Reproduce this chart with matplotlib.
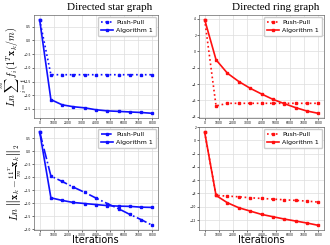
import numpy as np
import matplotlib
matplotlib.use("Agg")
import matplotlib.pyplot as plt

plt.rcParams['mathtext.fontset'] = 'cm'

iters = [0, 800, 1600, 2400, 3200, 4000, 4800, 5600, 6400, 7200, 8000]
xticks = [0, 1000, 2000, 3000, 4000, 5000, 6000, 7000, 8000]

# star graph, objective gap
star_f_pp = [0.76, -1.25, -1.25, -1.25, -1.25, -1.25, -1.25, -1.25, -1.25, -1.25, -1.25]
star_f_alg = [0.76, -2.16, -2.35, -2.42, -2.46, -2.53, -2.57, -2.59, -2.61, -2.63, -2.66]
# ring graph, objective gap
ring_f_pp = [3.91, -6.70, -6.37, -6.37, -6.37, -6.37, -6.37, -6.37, -6.37, -6.37, -6.37]
ring_f_alg = [3.91, -1.02, -2.67, -3.69, -4.52, -5.22, -5.88, -6.41, -6.90, -7.32, -7.60]
# star graph, consensus error
star_c_pp = [0.76, -0.95, -1.16, -1.38, -1.58, -1.80, -2.01, -2.21, -2.43, -2.63, -2.85]
star_c_alg = [0.76, -1.79, -1.89, -1.97, -2.01, -2.05, -2.09, -2.11, -2.12, -2.15, -2.16]
# ring graph, consensus error
ring_c_pp = [1.2, -8.3, -8.4, -8.5, -8.65, -8.75, -8.85, -8.95, -9.05, -9.15, -9.3]
ring_c_alg = [1.2, -8.3, -9.4, -10.15, -10.65, -11.15, -11.5, -11.85, -12.15, -12.45, -12.8]

fig = plt.figure(figsize=(3.3, 2.45), dpi=100)
W, H = 330.0, 245.0

def mkax(l, t, r, b):
    return fig.add_axes([l / W, 1 - b / H, (r - l) / W, (b - t) / H])

ax1 = mkax(34, 15, 158, 118)
ax2 = mkax(199, 15, 324, 118)
ax3 = mkax(34, 127, 158, 230)
ax4 = mkax(199, 127, 324, 230)

blue = '#1010ff'
red = '#ff1010'

def draw(ax, pp, alg, col, ppls):
    ax.plot(iters, pp, ls=ppls, color=col, lw=1.2, marker='s', ms=1.6, label='Push-Pull')
    ax.plot(iters, alg, ls='-', color=col, lw=1.2, marker='s', ms=1.6, label='Algorithm 1')
    ax.set_xticks(xticks)
    ax.tick_params(labelsize=2.2, length=1.2, width=0.4, pad=0.8)
    ax.grid(True, color='#dddddd', lw=0.5)
    for s in ax.spines.values():
        s.set_linewidth(0.5)
        s.set_color('#666666')
    ax.legend(loc='upper right', fontsize=4.5, handlelength=2.0, borderpad=0.5,
              labelspacing=0.4, handletextpad=0.5, framealpha=1,
              edgecolor='#cccccc', fancybox=True, borderaxespad=0.3)

draw(ax1, star_f_pp, star_f_alg, blue, ':')
draw(ax2, ring_f_pp, ring_f_alg, red, ':')
draw(ax3, star_c_pp, star_c_alg, blue, '-.')
draw(ax4, ring_c_pp, ring_c_alg, red, ':')

ax1.set_yticks([0.5, 0.0, -0.5, -1.0, -1.5, -2.0, -2.5])
ax2.set_yticks([4, 2, 0, -2, -4, -6, -8])
ax3.set_yticks([0.5, 0.0, -0.5, -1.0, -1.5, -2.0, -2.5, -3.0])
ax4.set_yticks([2, 0, -2, -4, -6, -8, -10, -12])

fig.text(110 / W, 1 - 8 / H, 'Directed star graph', family='Liberation Serif',
         fontsize=8, ha='center', va='center')
fig.text(276 / W, 1 - 8 / H, 'Directed ring graph', family='Liberation Serif',
         fontsize=8, ha='center', va='center')

fig.text(14 / W, 1 - 67 / H, r'$Ln\,\sum_{i=1}^{m}\,f_i\left(\mathbf{1}^T\mathbf{x}_k/m\right)$',
         rotation=90, fontsize=7.2, ha='center', va='center')
fig.text(14 / W, 1 - 182 / H, r'$Ln\,\left\|\mathbf{x}_k-\frac{\mathbf{1}\mathbf{1}^T}{m}\mathbf{x}_k\right\|_2$',
         rotation=90, fontsize=7.2, ha='center', va='center')

fig.text(95 / W, 1 - 240 / H, 'Iterations', fontsize=7, ha='center', va='center')
fig.text(261 / W, 1 - 240 / H, 'Iterations', fontsize=7, ha='center', va='center')

plt.savefig('out.png', dpi=100)
